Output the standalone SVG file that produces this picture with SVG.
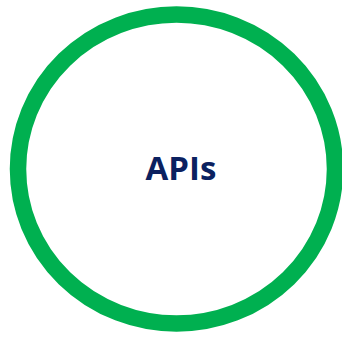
<svg xmlns="http://www.w3.org/2000/svg" width="342" height="337" viewBox="0 0 342 337">
<style>
.ring{fill:#ffffff;stroke:#00b050;stroke-width:16.5}
.lbl{font-family:"Open Sans","Noto Sans","Liberation Sans",sans-serif;font-weight:700;font-size:33px;fill:#0b2160;text-anchor:middle}
</style>
<rect width="342" height="337" fill="#ffffff"/>
<g id="apis">
<ellipse class="ring" cx="176.5" cy="169" rx="158.5" ry="154.5"/>
<text class="lbl" x="181" y="179.5">APIs</text>
</g>
</svg>
